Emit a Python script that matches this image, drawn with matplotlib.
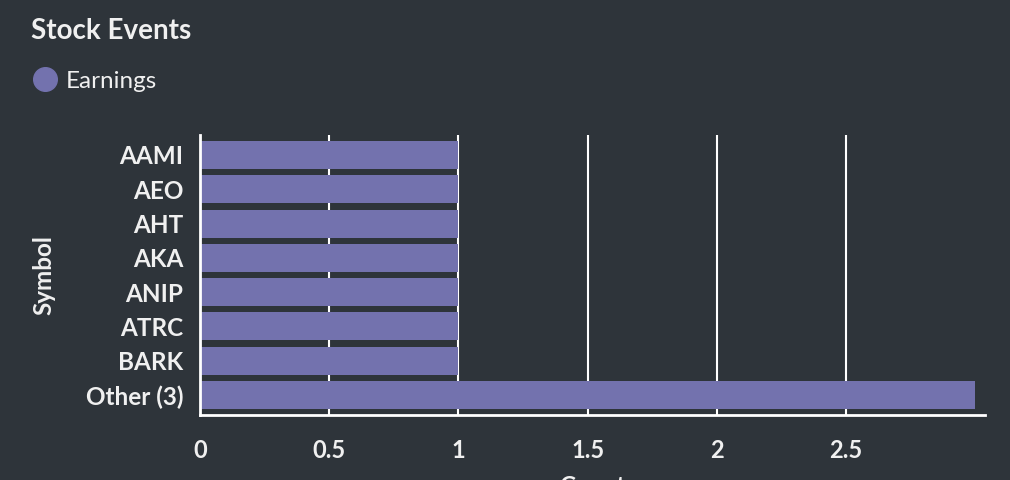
import matplotlib
matplotlib.use("Agg")
import matplotlib.pyplot as plt
from matplotlib.lines import Line2D

symbols = ["AAMI", "AEO", "AHT", "AKA", "ANIP", "ATRC", "BARK", "Other (3)"]
counts = [1, 1, 1, 1, 1, 1, 1, 3]
xticks = [0, 0.5, 1, 1.5, 2, 2.5]
xticklabels = ["0", "0.5", "1", "1.5", "2", "2.5"]
series_name = "Earnings"

BG = "#2e343a"
BAR = "#7372ae"
FG = "#f0f0f0"

plt.rcParams["font.family"] = ["Lato", "DejaVu Sans"]

fig = plt.figure(figsize=(10.1, 4.8), dpi=100, facecolor=BG)
ax = fig.add_axes([200/1010, 1-415/480, 785/1010, 280/480], facecolor=BG)

y = list(range(len(symbols)))
ax.barh(y, counts, height=0.82, color=BAR, zorder=2)
ax.set_ylim(len(symbols)-0.417, -0.583)
ax.set_xlim(0, 3.037)
ax.set_yticks(y)
ax.set_yticklabels(symbols, fontsize=17.5, fontweight="bold", color=FG)
ax.set_xticks(xticks)
ax.set_xticklabels(xticklabels, fontsize=17, fontweight="bold", color=FG)
ax.tick_params(axis="both", length=0)
ax.tick_params(axis="y", pad=12)
ax.tick_params(axis="x", pad=17)
ax.grid(axis="x", color="white", linewidth=1.5, zorder=0)
ax.set_axisbelow(True)
for s in ["top", "right"]:
    ax.spines[s].set_visible(False)
for s in ["left", "bottom"]:
    ax.spines[s].set_color("white")
    ax.spines[s].set_linewidth(2)
ax.set_ylabel("Symbol", fontsize=17.5, fontweight="bold", color=FG, labelpad=22)
ax.set_xlabel("Count", fontsize=17.5, fontweight="bold", color=FG, labelpad=10)

fig.text(31/1010, 1-31/480, "Stock Events", fontsize=20, fontweight="bold",
         color=FG, va="center", ha="left")
handle = Line2D([], [], marker="o", linestyle="none", markersize=17,
                markerfacecolor=BAR, markeredgecolor=BAR)
fig.legend([handle], [series_name], loc="center left",
           bbox_to_anchor=(17/1010, 1-81/480), frameon=False,
           fontsize=17.5, labelcolor=FG, handletextpad=0.1, borderaxespad=0,
           handlelength=1.5)

fig.savefig("out.png", dpi=100, facecolor=BG)
